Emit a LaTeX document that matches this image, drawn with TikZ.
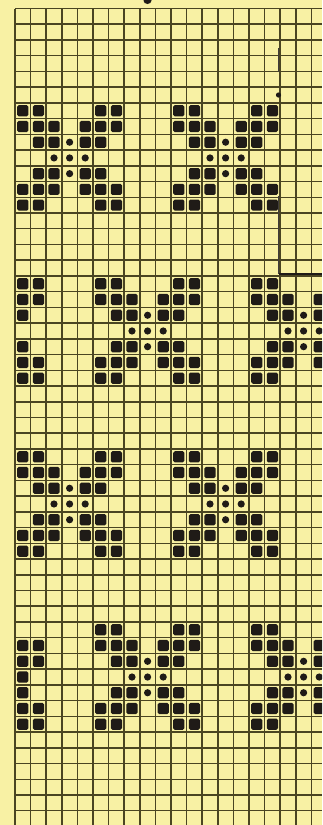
\documentclass[tikz,border=0pt]{standalone}
\definecolor{paper}{HTML}{F8F1A4}
\definecolor{gridc}{HTML}{4A4522}
\definecolor{ink}{HTML}{1F1B17}
\tikzset{
  gridline/.style={draw=gridc,line width=1.5pt},
  inkfill/.style={fill=ink},
  pastemark/.style={draw=ink!85,line width=1.1pt}
}
\newcommand\cellsq[2]{\fill[inkfill,rounded corners=1.6pt] ({15+15.6*(#1+0.5)-5.6},{8.5+15.73*(#2+0.5)-5.6}) rectangle ++(11.2,11.2);}
\newcommand\celldot[2]{\fill[inkfill] ({15+15.6*(#1+0.5)},{8.5+15.73*(#2+0.5)}) circle (3.6);}
\newcommand\xmotif[2]{%
  \foreach \a/\b in {0/0,1/0,5/0,6/0,0/1,1/1,2/1,4/1,5/1,6/1,1/2,2/2,4/2,5/2,1/4,2/4,4/4,5/4,0/5,1/5,2/5,4/5,5/5,6/5,0/6,1/6,5/6,6/6}{\cellsq{#1+\a}{#2+\b}}%
  \foreach \a/\b in {3/2,2/3,3/3,4/3,3/4}{\celldot{#1+\a}{#2+\b}}%
}
\begin{document}
\begin{tikzpicture}[x=1pt,y=-1pt]
\fill[paper] (0,0) rectangle (322,825);
\useasboundingbox (0,0) rectangle (322,825);
\begin{scope}
\clip (0,0) rectangle (322,825);
% grid
\foreach \k in {0,...,19}{\draw[gridline] ({15+15.6*\k},8.5) -- ({15+15.6*\k},825);}
\foreach \j in {0,...,52}{\draw[gridline] (15,{8.5+15.73*\j}) -- (322,{8.5+15.73*\j});}
% band 1
\xmotif{0}{6}
\xmotif{10}{6}
% band 2
\xmotif{5}{17}
\xmotif{15}{17}
\foreach \a/\b in {0/17,1/17,0/18,1/18,0/19,0/21,0/22,1/22,0/23,1/23}{\cellsq{\a}{\b}}
% band 3
\xmotif{0}{28}
\xmotif{10}{28}
% band 4
\xmotif{5}{39}
\xmotif{15}{39}
\foreach \a/\b in {0/40,1/40,0/41,1/41,0/42,0/43,0/44,1/44,0/45,1/45}{\cellsq{\a}{\b}}
% paste marks
\fill[inkfill] (147.5,0.5) ellipse (4 and 3.5);
\draw[pastemark] (278.5,48) -- (278.5,72);
\fill[inkfill] (278.5,95) circle (2.6);
\draw[pastemark] (278.5,196) -- (278.5,273.5);
\draw[draw=ink,line width=2pt] (278.5,273.5) -- (322,273.5);
\end{scope}
\end{tikzpicture}
\end{document}
